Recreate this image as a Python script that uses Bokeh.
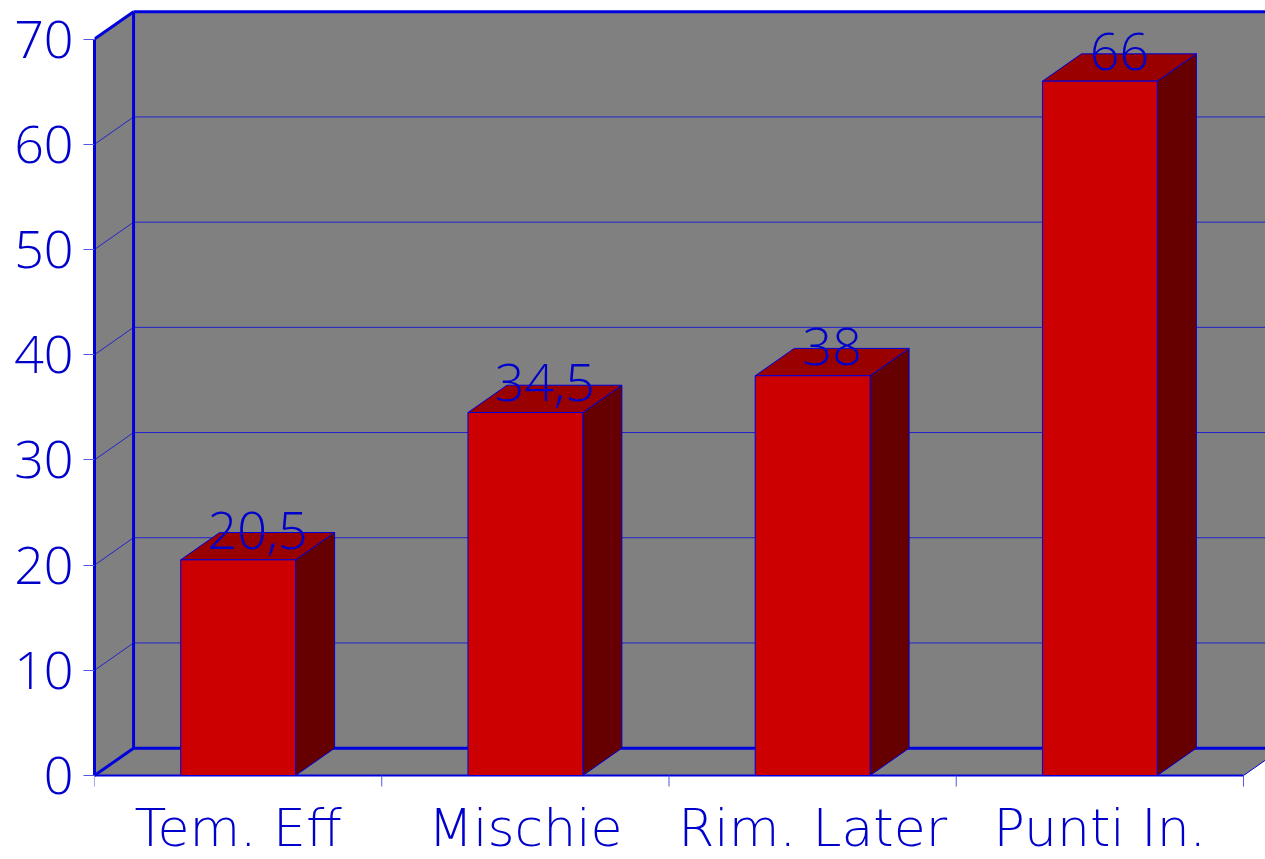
from bokeh.plotting import figure
from bokeh.models import Range1d, FixedTicker, LinearAxis, ColumnDataSource
from bokeh.core.properties import value
from bokeh.embed import file_html
from bokeh.resources import INLINE

# Data
categories = ["Tem. Eff", "Mischie", "Rim. Later", "Punti In."]
values = [20.5, 34.5, 38, 66]
value_labels = ["20,5", "34,5", "38", "66"]
y_ticks = [0, 10, 20, 30, 40, 50, 60, 70]

# 3D look: depth offset expressed in data units
Y_MAX = 70
DX = 0.136
DY = 2.6
HALF = 0.2
PX_PER_UNIT = 10.52          # vertical scale of the frame
TICK = 11 / PX_PER_UNIT      # boundary ticks below the floor

NUM_FONT = "Open Sans Light, Open Sans, sans-serif"
CAT_FONT = "DejaVu Sans Light, DejaVu Sans ExtraLight, Open Sans Light, sans-serif"
TEXT_COLOR = "#0000cc"
EDGE = "#0000dd"
GRID = "#2222cc"
TICK_COLOR = "#5555dd"
WALL = "#808080"

n = len(categories)
x_lo, x_hi = -0.5, n - 0.5

p = figure(width=1265, height=859, output_backend="svg", toolbar_location=None,
           x_range=Range1d(x_lo, x_hi + 0.0766),
           y_range=Range1d(-84 / PX_PER_UNIT, 775 / PX_PER_UNIT),
           min_border_left=94, min_border_right=0, min_border_top=0,
           min_border_bottom=0, x_axis_location=None, y_axis_location=None)
p.grid.visible = False
p.outline_line_color = None
p.background_fill_color = "white"
p.border_fill_color = "white"

# walls and floor
p.patch([x_lo, x_lo + DX, x_lo + DX, x_lo], [0, DY, Y_MAX + DY, Y_MAX],
        fill_color=WALL, line_color=None)
p.patch([x_lo, x_hi, x_hi + DX, x_lo + DX], [0, 0, DY, DY],
        fill_color=WALL, line_color=None)
p.patch([x_lo + DX, x_hi + DX, x_hi + DX, x_lo + DX],
        [DY, DY, Y_MAX + DY, Y_MAX + DY], fill_color=WALL, line_color=None)

# gridlines across side wall and back wall
gx, gy = [], []
for t in y_ticks[1:-1]:
    gx.append([x_lo, x_lo + DX, x_hi + DX])
    gy.append([t, t + DY, t + DY])
p.multi_line(gx, gy, line_color=GRID, line_width=1)

# heavy wall edges
ex = [[x_lo + DX, x_lo + DX], [x_lo + DX, x_hi + DX], [x_lo + DX, x_hi + DX],
      [x_lo, x_lo + DX], [x_lo, x_lo + DX]]
ey = [[DY, Y_MAX + DY], [Y_MAX + DY, Y_MAX + DY], [DY, DY],
      [Y_MAX, Y_MAX + DY], [0, DY]]
p.multi_line(ex, ey, line_color=EDGE, line_width=3)
p.line([x_hi, x_hi + DX], [0, DY], line_color=EDGE, line_width=1)

# floor front edge and category boundary ticks
p.line([x_lo, x_hi], [0, 0], line_color=EDGE, line_width=2)
bounds = [x_lo + i for i in range(n + 1)]
p.segment(x0=bounds, y0=[0] * (n + 1), x1=bounds, y1=[-TICK] * (n + 1),
          line_color=TICK_COLOR, line_width=1)

# bars
xs = list(range(n))
src = ColumnDataSource(dict(
    left=[x - HALF for x in xs], right=[x + HALF for x in xs],
    top=values,
    side_x=[[x + HALF, x + HALF + DX, x + HALF + DX, x + HALF] for x in xs],
    side_y=[[0, DY, v + DY, v] for v in values],
    top_x=[[x - HALF, x + HALF, x + HALF + DX, x - HALF + DX] for x in xs],
    top_y=[[v, v, v + DY, v + DY] for v in values],
    lx=[x + DX / 2 for x in xs], ly=[v + DY / 2 for v in values],
    lbl=value_labels,
))
p.patches("side_x", "side_y", source=src, fill_color="#660000",
          line_color=EDGE, line_width=1)
p.patches("top_x", "top_y", source=src, fill_color="#990000",
          line_color=EDGE, line_width=1)
p.quad(left="left", right="right", bottom=0, top="top", source=src,
       fill_color="#cc0000", line_color=EDGE, line_width=1)

# value labels above each bar
p.text(x="lx", y="ly", text="lbl", source=src, text_align="center",
       text_baseline="alphabetic", y_offset=-16, text_font=value(NUM_FONT),
       text_font_size="52px", text_color=TEXT_COLOR)

# category names under the floor
cat_src = ColumnDataSource(dict(x=xs, y=[0] * n, text=categories))
p.text(x="x", y="y", text="text", source=cat_src, text_align="center",
       text_baseline="alphabetic", y_offset=52, text_font=value(CAT_FONT),
       text_font_size="52px", text_color=TEXT_COLOR)

# value axis on the front-left edge
yax = LinearAxis(ticker=FixedTicker(ticks=y_ticks, minor_ticks=[]),
                 bounds=(0, Y_MAX), axis_line_color=EDGE, axis_line_width=3,
                 major_tick_out=11, major_tick_in=0,
                 major_tick_line_color=TICK_COLOR, minor_tick_line_color=None,
                 major_label_text_font=NUM_FONT,
                 major_label_text_font_size="52px",
                 major_label_text_color=TEXT_COLOR, major_label_standoff=10)
p.add_layout(yax, "left")

open("out.html", "w").write(file_html(p, INLINE))
